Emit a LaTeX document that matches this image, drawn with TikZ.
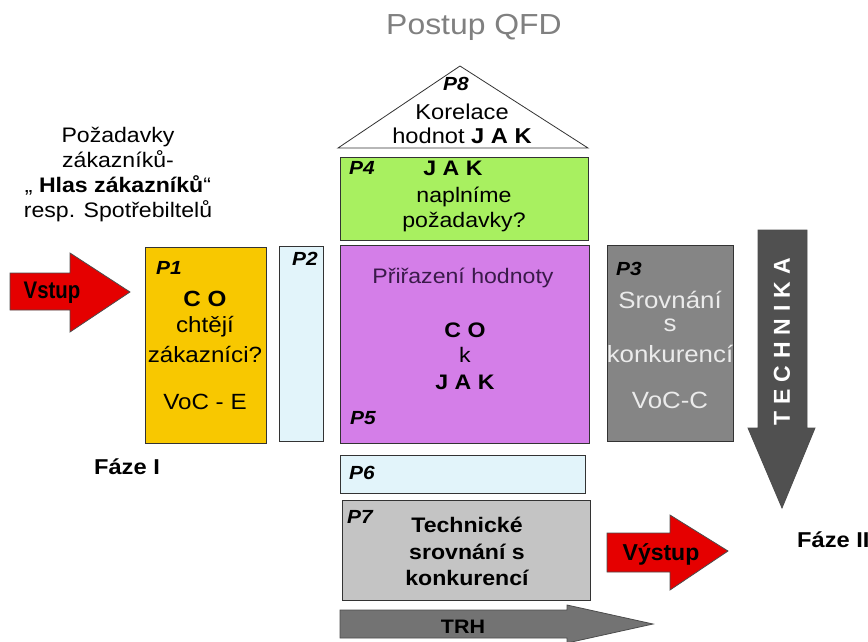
\documentclass[tikz,border=0pt]{standalone}
\usepackage{fontspec}
\setmainfont[FakeStretch=1.1]{Liberation Sans}
\newfontfamily\condfont[FakeStretch=0.85]{Liberation Sans}
\newfontfamily\plainfont{Liberation Sans}
\begin{document}
\begin{tikzpicture}[x=1pt,y=-1pt,
  box/.style={draw=black!80, line width=0.8pt, anchor=north west, inner sep=0pt},
  txt/.style={font=\fontsize{22}{25}\selectfont, align=center, inner sep=0pt},
  btxt/.style={font=\fontsize{22}{25}\selectfont\bfseries, align=center, inner sep=0pt},
  plab/.style={font=\fontsize{19}{22}\selectfont\bfseries\itshape, inner sep=0pt},
  redarrow/.style={fill=red!90!black, draw=black!70, line width=0.8pt},
  grayarrow/.style={draw=black!70, line width=0.8pt}]
\useasboundingbox (0,0) rectangle (868,641);
\definecolor{yel}{HTML}{F8C800}
\definecolor{lblue}{HTML}{E2F4FA}
\definecolor{lgreen}{HTML}{A8F060}
\definecolor{purp}{HTML}{D47EE8}
\definecolor{dgray}{HTML}{858585}
\definecolor{lgray}{HTML}{C4C4C4}
\definecolor{techgray}{HTML}{505050}
\definecolor{darkpurp}{HTML}{3A1A4A}

% title
\node[font=\fontsize{29}{32}\selectfont, text=black!50, inner sep=0pt] (title) at (474,27) {Postup QFD};

% left description
\node[txt, font=\fontsize{21}{25}\selectfont] (req) at (118,175) {Požadavky\\zákazníků-\\„ \textbf{Hlas zákazníků}“\\resp. Spotřebiltelů};

% boxes
\node[box, fill=yel, minimum width=121, minimum height=196] (p1) at (145,247) {};
\node[box, fill=lblue, minimum width=44, minimum height=195] (p2) at (279,246) {};
\node[box, fill=lgreen, minimum width=248, minimum height=83] (p4) at (340,157) {};
\node[box, fill=purp, minimum width=249, minimum height=198] (p5) at (340,245) {};
\node[box, fill=lblue, minimum width=245, minimum height=38] (p6) at (340,455) {};
\node[box, fill=lgray, minimum width=248, minimum height=100] (p7) at (342,500) {};
\node[box, fill=dgray, minimum width=126, minimum height=196] (p3) at (607,245) {};

% triangle P8
\draw[draw=black!80, line width=0.8pt, fill=white] (338,148) -- (460,66) -- (588,148) -- cycle;
\node[plab] (p8l) at (456,84) {P8};
\node[txt, font=\fontsize{21.5}{25}\selectfont] (p8a) at (462,112) {Korelace};
\node[txt, font=\fontsize{21.5}{25}\selectfont] (p8b) at (462,136) {hodnot \textbf{J A K}};

% P1 text
\node[plab] (p1l) at (169,268) {P1};
\node[btxt] (p1a) at (205,299) {C O};
\node[txt] (p1b) at (205,327) {chtějí};
\node[txt] (p1c) at (205,354) {zákazníci?};
\node[txt] (p1d) at (205,402) {VoC - E};

% P2
\node[plab] (p2l) at (305,259) {P2};

% P4
\node[plab] (p4l) at (362,168) {P4};
\node[btxt, font=\fontsize{21}{25}\selectfont\bfseries] (p4a) at (453,168) {J A K};
\node[txt, font=\fontsize{21}{25}\selectfont] (p4b) at (464,197) {naplníme};
\node[txt, font=\fontsize{21}{25}\selectfont] (p4c) at (464,222) {požadavky?};

% P5
\node[txt, text=darkpurp, font=\fontsize{21}{25}\selectfont] (p5a) at (463,278) {Přiřazení hodnoty};
\node[btxt, font=\fontsize{21}{25}\selectfont\bfseries] (p5b) at (465,330) {C O};
\node[txt, font=\fontsize{21}{25}\selectfont] (p5c) at (465,355) {k};
\node[btxt, font=\fontsize{21}{25}\selectfont\bfseries] (p5d) at (465,382) {J A K};
\node[plab] (p5l) at (363,418) {P5};

% P6
\node[plab] (p6l) at (362,473) {P6};

% P3
\node[plab] (p3l) at (629,269) {P3};
\node[txt, text=black!8, font=\fontsize{23.5}{25}\selectfont] (p3a) at (670,300) {Srovnání};
\node[txt, text=black!8, font=\fontsize{23.5}{25}\selectfont] (p3b) at (670,325) {s};
\node[txt, text=black!8, font=\fontsize{23.5}{25}\selectfont] (p3c) at (670,354) {konkurencí};
\node[txt, text=black!8, font=\fontsize{23.5}{25}\selectfont] (p3d) at (670,400) {VoC-C};

% P7
\node[plab] (p7l) at (360,517) {P7};
\node[btxt, font=\fontsize{21}{25}\selectfont\bfseries] (p7a) at (467,525) {Technické};
\node[btxt, font=\fontsize{21}{25}\selectfont\bfseries] (p7b) at (467,552) {srovnání s};
\node[btxt, font=\fontsize{21}{25}\selectfont\bfseries] (p7c) at (467,578) {konkurencí};

% Vstup arrow
\draw[redarrow] (10,273) -- (70,273) -- (70,253) -- (130,292) -- (70,332) -- (70,310) -- (10,310) -- cycle;
\node[inner sep=0pt, font=\condfont\fontsize{24}{25}\selectfont\bfseries] (vstup) at (52,293) {Vstup};

% Vystup arrow
\draw[redarrow] (607,533) -- (670,533) -- (670,515) -- (728,551) -- (670,590) -- (670,572) -- (607,572) -- cycle;
\node[inner sep=0pt, font=\plainfont\fontsize{23}{25}\selectfont\bfseries] (vystup) at (661,554) {Výstup};

% TRH arrow
\draw[grayarrow, fill=black!55] (340,610) -- (567,610) -- (567,605) -- (653,624) -- (567,643) -- (567,638) -- (340,638) -- cycle;
\node[btxt, font=\fontsize{19.5}{22}\selectfont\bfseries] (trh) at (463,627) {TRH};

% TECHNIKA arrow
\draw[grayarrow, fill=techgray] (758,230) -- (807,230) -- (807,428) -- (815,428) -- (782,508) -- (748,428) -- (758,428) -- cycle;
\node[inner sep=0pt, text=white, rotate=90, font=\plainfont\fontsize{23}{25}\selectfont\bfseries] (tech) at (782,342) {T\hspace{7pt}E\hspace{7pt}C\hspace{7pt}H\hspace{7pt}N\hspace{7pt}I\hspace{7pt}K\hspace{7pt}A};

% phases
\node[btxt, font=\fontsize{21.5}{25}\selectfont\bfseries] (faze1) at (127,467) {Fáze I};
\node[btxt, font=\fontsize{21.5}{25}\selectfont\bfseries, anchor=west] (faze2) at (797,540) {Fáze II};
\end{tikzpicture}
\end{document}
